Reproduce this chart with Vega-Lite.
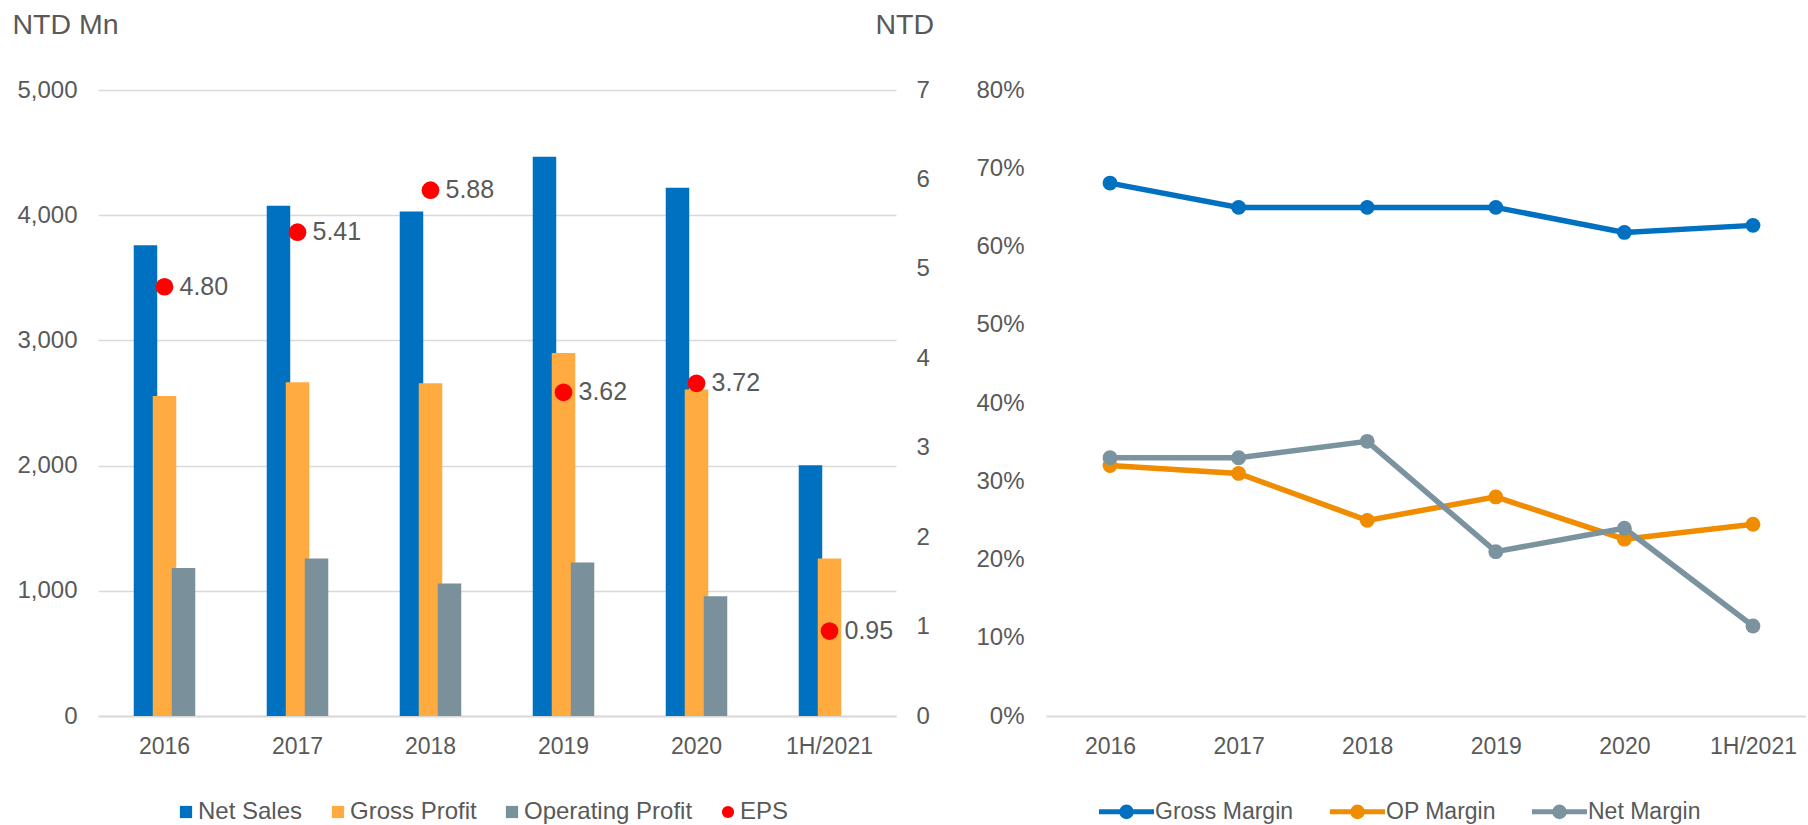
{
  "$schema": "https://vega.github.io/schema/vega-lite/v6.json",
  "padding": {"left": 12, "top": 10, "right": 0, "bottom": 0},
  "bounds": "flush",
  "spacing": 150,
  "config": {
    "view": {"stroke": null},
    "font": "Liberation Sans",
    "axis": {"labelFont": "Liberation Sans", "labelColor": "#595959", "titleColor": "#595959", "titleFont": "Liberation Sans", "titleFontWeight": "normal", "ticks": false, "tickSize": 0, "domain": false, "grid": false, "labelFontSize": 24},
    "legend": {"labelFont": "Liberation Sans", "labelColor": "#595959", "symbolOpacity": 1, "labelLimit": 400}
  },
  "datasets": {
    "bars": [
      {"year": "2016", "series": "Net Sales", "value": 3760},
      {"year": "2016", "series": "Gross Profit", "value": 2555},
      {"year": "2016", "series": "Operating Profit", "value": 1183},
      {"year": "2017", "series": "Net Sales", "value": 4075},
      {"year": "2017", "series": "Gross Profit", "value": 2665},
      {"year": "2017", "series": "Operating Profit", "value": 1258},
      {"year": "2018", "series": "Net Sales", "value": 4030},
      {"year": "2018", "series": "Gross Profit", "value": 2658},
      {"year": "2018", "series": "Operating Profit", "value": 1058},
      {"year": "2019", "series": "Net Sales", "value": 4467},
      {"year": "2019", "series": "Gross Profit", "value": 2900},
      {"year": "2019", "series": "Operating Profit", "value": 1226},
      {"year": "2020", "series": "Net Sales", "value": 4220},
      {"year": "2020", "series": "Gross Profit", "value": 2607},
      {"year": "2020", "series": "Operating Profit", "value": 957},
      {"year": "1H/2021", "series": "Net Sales", "value": 2003},
      {"year": "1H/2021", "series": "Gross Profit", "value": 1258}
    ],
    "eps": [
      {"year": "2016", "series": "EPS", "eps": 4.80},
      {"year": "2017", "series": "EPS", "eps": 5.41},
      {"year": "2018", "series": "EPS", "eps": 5.88},
      {"year": "2019", "series": "EPS", "eps": 3.62},
      {"year": "2020", "series": "EPS", "eps": 3.72},
      {"year": "1H/2021", "series": "EPS", "eps": 0.95}
    ],
    "margins": [
      {"year": "2016", "metric": "Gross Margin", "value": 0.681},
      {"year": "2017", "metric": "Gross Margin", "value": 0.650},
      {"year": "2018", "metric": "Gross Margin", "value": 0.650},
      {"year": "2019", "metric": "Gross Margin", "value": 0.650},
      {"year": "2020", "metric": "Gross Margin", "value": 0.618},
      {"year": "1H/2021", "metric": "Gross Margin", "value": 0.627},
      {"year": "2016", "metric": "OP Margin", "value": 0.320},
      {"year": "2017", "metric": "OP Margin", "value": 0.310},
      {"year": "2018", "metric": "OP Margin", "value": 0.250},
      {"year": "2019", "metric": "OP Margin", "value": 0.280},
      {"year": "2020", "metric": "OP Margin", "value": 0.226},
      {"year": "1H/2021", "metric": "OP Margin", "value": 0.245},
      {"year": "2016", "metric": "Net Margin", "value": 0.330},
      {"year": "2017", "metric": "Net Margin", "value": 0.330},
      {"year": "2018", "metric": "Net Margin", "value": 0.351},
      {"year": "2019", "metric": "Net Margin", "value": 0.210},
      {"year": "2020", "metric": "Net Margin", "value": 0.240},
      {"year": "1H/2021", "metric": "Net Margin", "value": 0.115}
    ]
  },
  "resolve": {"scale": {"x": "independent", "y": "independent", "color": "independent", "shape": "independent"}, "legend": {"color": "independent"}},
  "hconcat": [
    {
      "width": 798,
      "height": 626,
      "layer": [
        {
          "data": {"name": "bars"},
          "mark": {"type": "bar", "width": 23.5},
          "encoding": {
            "x": {"field": "year", "type": "nominal", "sort": null,
              "scale": {"domain": ["2016", "2017", "2018", "2019", "2020", "1H/2021"], "paddingInner": 0.571, "paddingOuter": 0.2855},
              "axis": {"title": null, "labelAngle": 0, "labelFontSize": 23, "labelPadding": 19, "domain": true, "domainColor": "#D9D9D9", "domainWidth": 2}},
            "xOffset": {"field": "series", "type": "nominal", "sort": null, "scale": {"domain": ["Net Sales", "Gross Profit", "Operating Profit"], "paddingInner": 0, "paddingOuter": 0}},
            "y": {"field": "value", "type": "quantitative", "scale": {"domain": [0, 5000]},
              "axis": {"values": [0, 1000, 2000, 3000, 4000, 5000], "format": ",.0f", "grid": true, "gridColor": "#D9D9D9", "gridWidth": 1.5, "labelPadding": 21, "title": "NTD Mn", "titleAngle": 0, "titleX": -86, "titleY": -57, "titleAlign": "left", "titleBaseline": "alphabetic", "titleFontSize": 28.5}},
            "color": {"field": "series", "type": "nominal",
              "scale": {"domain": ["Net Sales", "Gross Profit", "Operating Profit", "EPS"], "range": ["#0070C0", "#FFAB40", "#7A909B", "#FF0000"]},
              "legend": {"title": null, "orient": "none", "legendX": 76, "legendY": 710, "direction": "horizontal", "labelFontSize": 24, "symbolSize": 150, "labelOffset": 0, "columnPadding": 23, "symbolStrokeWidth": 0}}
          }
        },
        {
          "data": {"name": "eps"},
          "encoding": {
            "x": {"field": "year", "type": "nominal", "sort": null},
            "y": {"field": "eps", "type": "quantitative", "scale": {"domain": [0, 7]},
              "axis": {"orient": "right", "values": [0, 1, 2, 3, 4, 5, 6, 7], "labelPadding": 20, "title": "NTD", "titleAngle": 0, "titleX": -21, "titleY": -57, "titleAlign": "left", "titleBaseline": "alphabetic", "titleFontSize": 28.5}}
          },
          "layer": [
            {
              "mark": {"type": "point", "filled": true, "size": 314, "opacity": 1},
              "encoding": {
                "color": {"field": "series", "type": "nominal",
                  "legend": {"title": null, "orient": "none", "legendX": 76, "legendY": 710, "direction": "horizontal", "labelFontSize": 24, "symbolSize": 150, "labelOffset": 0, "columnPadding": 23, "symbolStrokeWidth": 0}},
                "shape": {"field": "series", "type": "nominal",
                  "scale": {"domain": ["Net Sales", "Gross Profit", "Operating Profit", "EPS"], "range": ["square", "square", "square", "circle"]},
                  "legend": {"title": null, "orient": "none", "legendX": 76, "legendY": 710, "direction": "horizontal", "labelFontSize": 24, "symbolSize": 150, "labelOffset": 0, "columnPadding": 23, "symbolStrokeWidth": 0}}
              }
            },
            {
              "mark": {"type": "text", "align": "left", "baseline": "middle", "dx": 15, "fontSize": 25, "color": "#595959", "font": "Liberation Sans"},
              "encoding": {"text": {"field": "eps", "type": "quantitative", "format": ".2f"}}
            }
          ]
        }
      ],
      "resolve": {"scale": {"y": "independent"}}
    },
    {
      "width": 760,
      "height": 626,
      "data": {"name": "margins"},
      "mark": {"type": "line", "strokeWidth": 5.5, "point": {"filled": true, "size": 220, "opacity": 1}},
      "encoding": {
        "x": {"field": "year", "type": "ordinal", "sort": null,
          "scale": {"type": "point", "domain": ["2016", "2017", "2018", "2019", "2020", "1H/2021"], "padding": 0.455, "align": 0.547},
          "axis": {"title": null, "labelAngle": 0, "labelFontSize": 23, "labelPadding": 19, "domain": true, "domainColor": "#D9D9D9", "domainWidth": 2}},
        "y": {"field": "value", "type": "quantitative", "scale": {"domain": [0, 0.8]},
          "axis": {"values": [0, 0.1, 0.2, 0.3, 0.4, 0.5, 0.6, 0.7, 0.8], "format": ".0%", "labelPadding": 22, "title": null}},
        "color": {"field": "metric", "type": "nominal", "sort": null,
          "scale": {"domain": ["Gross Margin", "OP Margin", "Net Margin"], "range": ["#0070C0", "#F08C00", "#7A939F"]},
          "legend": {"title": null, "orient": "none", "legendX": 69, "legendY": 710, "direction": "horizontal", "labelFontSize": 23, "symbolSize": 196, "labelOffset": 17, "columnPadding": 25, "symbolStrokeWidth": 5,
            "symbolType": "M-3.93,0 L3.93,0 M0.68,0 A0.68,0.68 0 1,1 -0.68,0 A0.68,0.68 0 1,1 0.68,0 M0.18,0 A0.18,0.18 0 1,1 -0.18,0 A0.18,0.18 0 1,1 0.18,0"}}
      }
    }
  ]
}
